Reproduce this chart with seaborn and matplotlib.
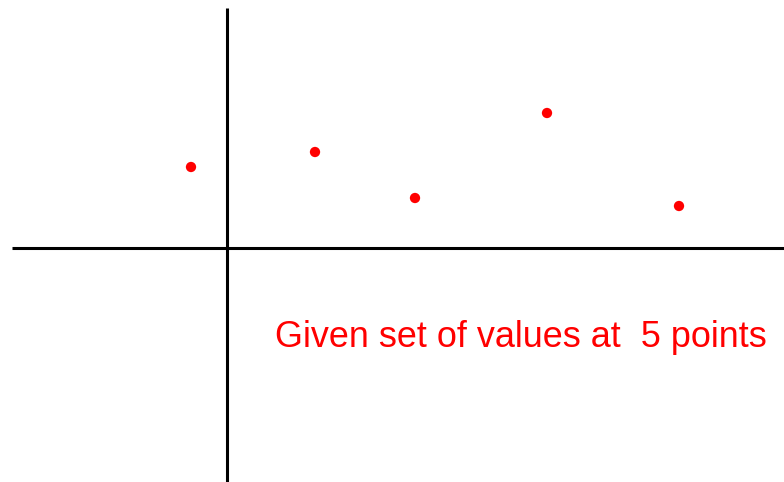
import matplotlib
matplotlib.use('Agg')
import matplotlib.pyplot as plt
import seaborn as sns
import pandas as pd

# five sample points (origin at the axis crossing, 1 unit = 100 px)
x_vals = [-0.36, 0.88, 1.88, 3.20, 4.52]
y_vals = [0.81, 0.96, 0.50, 1.35, 0.42]
label = 'Given set of values at  5 points'

sns.set_style('white')
plt.rcParams['font.family'] = ['Liberation Sans', 'DejaVu Sans']

df = pd.DataFrame({'x': x_vals, 'y': y_vals})

fig = plt.figure(figsize=(7.84, 4.82), dpi=100)
ax = fig.add_axes([0, 0, 1, 1])
ax.set_xlim(-2.27, 5.57)
ax.set_ylim(-2.34, 2.48)

# axis lines
ax.plot([-2.15, 5.57], [0, 0], color='black', lw=2.2, solid_capstyle='butt')
ax.plot([0, 0], [-2.34, 2.40], color='black', lw=2.2, solid_capstyle='butt')

sns.scatterplot(data=df, x='x', y='y', color='red', s=55, edgecolor='none', ax=ax, zorder=3)

ax.text(0.48, -0.99, label, color='red', fontsize=25.9, ha='left', va='baseline')

ax.set_axis_off()
fig.savefig('out.png', dpi=100, facecolor='white')
